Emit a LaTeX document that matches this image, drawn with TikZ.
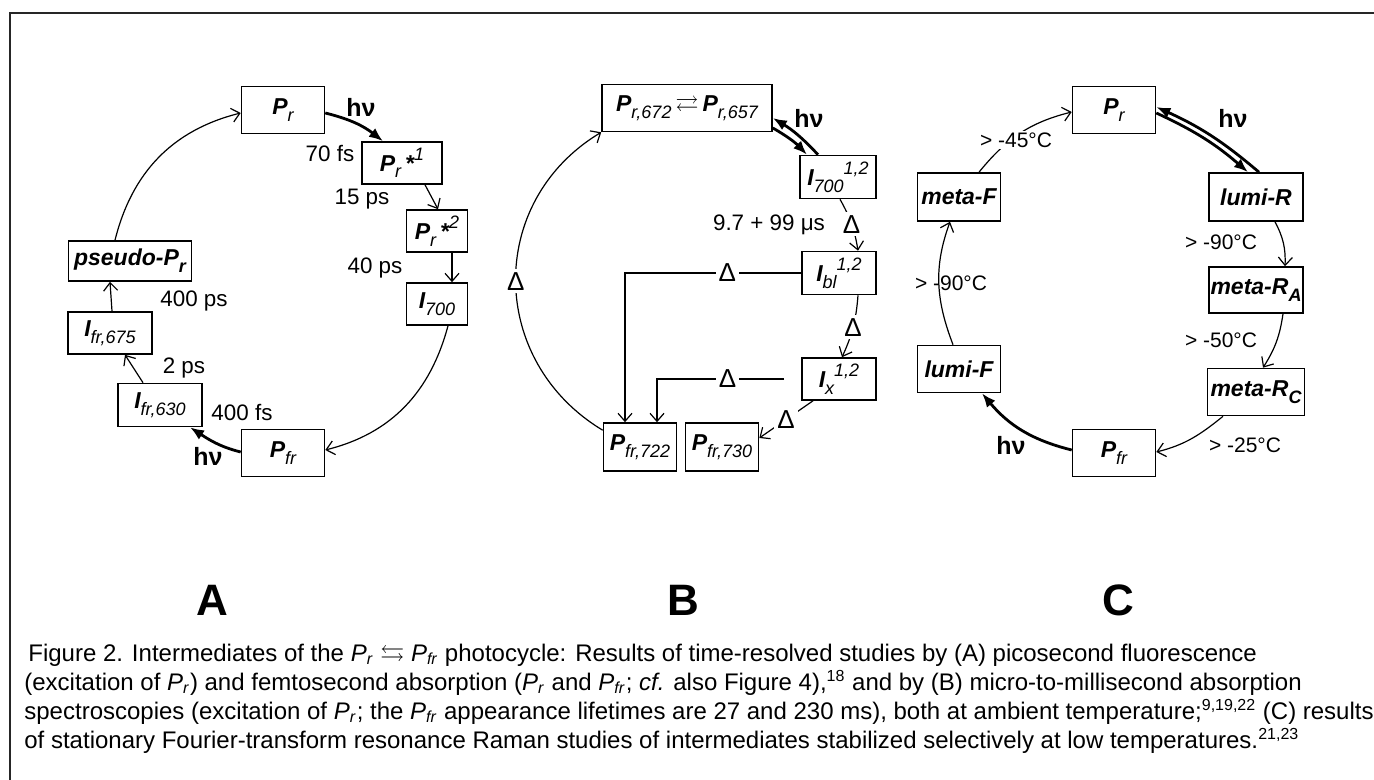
\documentclass[tikz,border=0pt]{standalone}
\usepackage{amssymb}
\usepackage{fontspec}
\setmainfont{Liberation Sans}
\usetikzlibrary{arrows.meta, positioning, calc}

\newcommand{\statefont}{\fontsize{11.5}{13}\selectfont\bfseries\itshape}
\newcommand{\lsub}[1]{\raisebox{-0.55ex}{\fontsize{9}{10}\selectfont\mdseries\itshape #1}}
\newcommand{\lsubb}[1]{\raisebox{-0.55ex}{\fontsize{9}{10}\selectfont\bfseries\itshape #1}}
\newcommand{\lsup}[1]{\raisebox{0.9ex}{\fontsize{9}{10}\selectfont\mdseries\itshape #1}}
\newcommand{\capP}[1]{\textit{P}\textsubscript{\textit{#1}}}

\begin{document}
\begin{tikzpicture}[x=0.5pt,y=-0.5pt,
    box/.style={draw, line width=0.8pt, inner sep=0pt, font=\statefont},
    thermal/.style={line width=0.6pt, -{Straight Barb[length=4pt,width=7pt]}},
    photo/.style={line width=1.4pt, -{Latex[length=7pt,width=5.5pt]}},
    delta/.style={fill=white, inner sep=1.5pt, font=\fontsize{13}{15}\selectfont},
    tlabel/.style={inner sep=0pt, font=\fontsize{11.2}{13}\selectfont},
    temp/.style={inner sep=0pt, font=\fontsize{10.5}{12}\selectfont},
    hnu/.style={inner sep=0pt, font=\fontsize{12.5}{14}\selectfont\bfseries},
    panel/.style={font=\fontsize{22}{26}\selectfont\bfseries},
    caption/.style={anchor=base west, inner sep=0pt, font=\fontsize{12}{14}\selectfont}]
  \useasboundingbox (0,0) rectangle (1374,780);
  \draw[line width=0.8pt, black!85] (10,780) -- (10,13) -- (1374,13);

  % A
  \node[box, minimum width=41.5pt, minimum height=23.5pt] (prA) at (283,110) {P\lsub{r}};
  \node[box, minimum width=40pt, minimum height=21pt] (prsA) at (402,163) {P\lsub{r}\hspace{2pt}*\lsup{1}};
  \node[box, minimum width=30.5pt, minimum height=21pt] (prssA) at (437,231) {P\lsub{r}\hspace{2pt}*\lsup{2}};
  \node[box, minimum width=30.5pt, minimum height=21pt] (ivA) at (437,304) {I\lsub{700}};
  \node[box, minimum width=41.5pt, minimum height=23.5pt] (pfrA) at (283,453) {P\lsub{fr}};
  \node[box, minimum width=42pt, minimum height=21.5pt] (ifrlA) at (160,405) {I\lsub{fr,630}};
  \node[box, minimum width=42pt, minimum height=21pt] (ifrhA) at (110,333) {I\lsub{fr,675}};
  \node[box, minimum width=61.5pt, minimum height=20pt] (psA) at (130,261) {pseudo-P\lsubb{r}};

  \draw[photo] ($(prA.east)+(0,3)$) to[bend left=12] ($(prsA.north)+(-19,0)$);
  \draw[thermal] ($(prsA.south)+(23,0)$) -- ($(prssA.north)+(1,0)$);
  \draw[thermal] ($(prssA.south)+(15,0)$) -- ($(ivA.north)+(15,0)$);
  \draw[thermal] ($(ivA.south)+(11,0)$) to[out=-105, in=14] ($(pfrA.east)+(0,-3)$);
  \draw[photo] ($(pfrA.west)+(0,-1)$) to[out=166, in=-33] ($(ifrlA.south)+(30,0)$);
  \draw[thermal] ($(ifrlA.north)+(-17,0)$) -- ($(ifrhA.south)+(15,0)$);
  \draw[thermal] ($(ifrhA.north)+(2,0)$) -- ($(psA.south)+(-20,0)$);
  \draw[thermal] ($(psA.north)+(-15,0)$) to[out=76, in=-166] ($(prA.west)+(0,3)$);

  \node[hnu] (hnuA1) at (361,107) {hν};
  \node[hnu] (hnuA2) at (208,456) {hν};
  \node[tlabel] (tA1) at (330,154) {70 fs};
  \node[tlabel] (tA2) at (362,199) {15 ps};
  \node[tlabel] (tA3) at (375,268) {40 ps};
  \node[tlabel] (tA4) at (194,301) {400 ps};
  \node[tlabel] (tA5) at (184,368) {2 ps};
  \node[tlabel] (tA6) at (242,413) {400 fs};
  \node[panel] (labA) at (212,600) {A};

  % B
  \node[box, minimum width=85pt, minimum height=23.5pt] (prB) at (687,108)
    {P\lsub{r,672}\hspace{2pt}$\rightleftarrows$\hspace{2pt}P\lsub{r,657}};
  \node[box, minimum width=38pt, minimum height=21.5pt] (ivB) at (838,177) {I\lsub{700}\lsup{1,2}};
  \node[box, minimum width=37pt, minimum height=21.5pt] (iblB) at (839,273) {I\lsub{bl}\lsup{1,2}};
  \node[box, minimum width=37pt, minimum height=21pt] (ixB) at (839,379) {I\lsub{x}\lsup{1,2}};
  \node[box, minimum width=36.5pt, minimum height=24pt] (pfrB) at (640,447) {P\lsub{fr,722}};
  \node[box, minimum width=36.5pt, minimum height=24pt] (pfrxB) at (722,447) {P\lsub{fr,730}};

  \draw[photo] ($(prB.east)+(0,20)$) to[bend left=8] ($(ivB.north)+(-31,0)$);
  \draw[photo] ($(ivB.north)+(-20,0)$) to[bend right=8] ($(prB.east)+(0,10)$);
  \draw[thermal] ($(ivB.south)+(2,0)$) to[bend left=10] node[delta] (dB1) {Δ} ($(iblB.north)+(19,0)$);
  \draw[thermal] ($(iblB.south)+(19,0)$) to[bend left=10] node[delta] (dB2) {Δ} ($(ixB.north)+(3,0)$);
  \draw[thermal] ($(ixB.south)+(-26,0)$) -- node[delta] (dB3) {Δ} ($(pfrxB.east)+(0,-9)$);
  \draw[thermal] (iblB.west) -| node[delta, pos=0.21] (dB4) {Δ} ($(pfrB.north)+(-15,0)$);
  \draw[thermal, shorten <=8.5pt] (ixB.west) -| node[delta, pos=0.255] (dB5) {Δ} ($(pfrB.north)+(17,0)$);
  \draw[thermal] ($(pfrB.north west)+(0,8)$) to[out=149, in=-149, looseness=1.15]
    node[delta] (dB6) {Δ} (prB.south west);

  \node[hnu] (hnuB) at (809,118) {hν};
  \node[tlabel] (tB) at (769,225) {9.7 + 99 μs};
  \node[panel] (labB) at (683,600) {B};

  % C
  \node[box, minimum width=41.5pt, minimum height=23.5pt] (prC) at (1114,110) {P\lsub{r}};
  \node[box, minimum width=47pt, minimum height=24pt] (lumiR) at (1256,197) {lumi-R};
  \node[box, minimum width=47pt, minimum height=23pt] (metaRA) at (1256,290) {meta-R\lsubb{A}};
  \node[box, minimum width=48.5pt, minimum height=23.5pt] (metaRC) at (1256,392) {meta-R\lsubb{C}};
  \node[box, minimum width=41.5pt, minimum height=23.5pt] (pfrC) at (1114,453) {P\lsub{fr}};
  \node[box, minimum width=41.5pt, minimum height=23.5pt] (lumiF) at (959,369) {lumi-F};
  \node[box, minimum width=41.5pt, minimum height=24pt] (metaF) at (959,197) {meta-F};

  \draw[photo] ($(prC.east)+(0,3)$) to[bend left=8] ($(lumiR.north)+(-8,0)$);
  \draw[photo] ($(lumiR.north)+(3,0)$) to[bend right=8] ($(prC.east)+(0,-3)$);
  \draw[thermal] ($(lumiR.south)+(19,0)$) to[bend left=15] ($(metaRA.north)+(29,0)$);
  \draw[thermal] ($(metaRA.south)+(27,0)$) to[bend left=12] ($(metaRC.north)+(7,0)$);
  \draw[thermal] ($(metaRC.south)+(-33,0)$) to[out=-141, in=14] ($(pfrC.east)+(0,-1)$);
  \draw[photo] ($(pfrC.west)+(0,-3)$) to[out=166, in=-50] ($(lumiF.south)+(23,0)$);
  \draw[thermal] ($(lumiF.north)+(-6,0)$) to[out=111, in=-110] ($(metaF.south)+(-9,0)$);
  \draw[thermal] ($(metaF.north)+(20,0)$) to[out=51, in=-166] ($(prC.west)+(0,2)$);

  \node[hnu] (hnuC1) at (1233,118) {hν};
  \node[hnu] (hnuC2) at (1011,445) {hν};
  \node[temp] (tC1) at (1221,242) {> -90°C};
  \node[temp] (tC2) at (1221,340) {> -50°C};
  \node[temp] (tC3) at (1245,445) {> -25°C};
  \node[temp, fill=white, inner sep=1pt] (tC4) at (1016,140) {> -45°C};
  \node[temp] (tC5) at (951,283) {> -90°C};
  \node[panel] (labC) at (1118,600) {C};

  \node[caption] (cap1) at (28,661) {Figure 2. Intermediates of the \capP{r} $\leftrightarrows$ \capP{fr} photocycle: Results of time-resolved studies by (A) picosecond fluorescence};
  \node[caption] (cap2) at (24,690) {(excitation of \capP{r}) and femtosecond absorption (\capP{r} and \capP{fr}; \textit{cf.} also Figure 4),\textsuperscript{18} and by (B) micro-to-millisecond absorption};
  \node[caption] (cap3) at (24,719) {spectroscopies (excitation of \capP{r}; the \capP{fr} appearance lifetimes are 27 and 230 ms), both at ambient temperature;\textsuperscript{9,19,22} (C) results};
  \node[caption] (cap4) at (24,748) {of stationary Fourier-transform resonance Raman studies of intermediates stabilized selectively at low temperatures.\textsuperscript{21,23}};
\end{tikzpicture}
\end{document}
